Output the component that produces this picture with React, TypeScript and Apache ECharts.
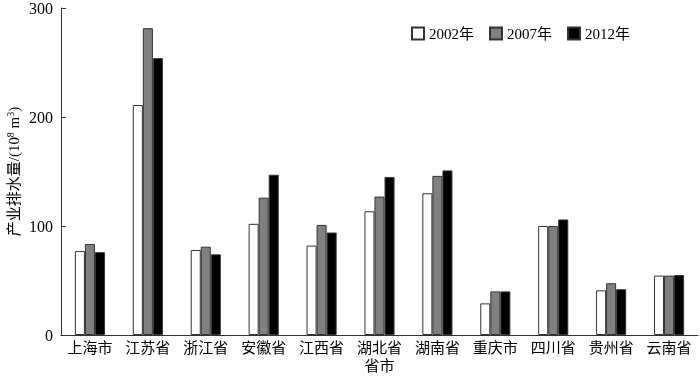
import React, { useEffect, useRef } from "react";
import * as echarts from "echarts";

const categories = ["上海市", "江苏省", "浙江省", "安徽省", "江西省", "湖北省", "湖南省", "重庆市", "四川省", "贵州省", "云南省"];
const years = ["2002年", "2007年", "2012年"];
const v2002 = [77, 211, 78, 102, 82, 113.5, 130, 29, 100, 41, 54.5];
const v2007 = [83.5, 281.5, 81, 126, 101, 127, 146, 40, 100, 47.5, 54.5];
const v2012 = [76, 254, 74, 147, 94, 145, 151, 40, 106, 42, 55];
const yTicks = { min: 0, max: 300, interval: 100 };

const FONT = "'Liberation Serif', 'Noto Sans CJK SC', serif";

export default function App() {
  const ref = useRef<HTMLDivElement>(null);
  useEffect(() => {
    const chart = echarts.init(ref.current!, null, { renderer: "svg" });
    const colors = ["#ffffff", "#808080", "#000000"];
    const data = [v2002, v2007, v2012];
    chart.setOption({
      animation: false,
      textStyle: { fontFamily: FONT, color: "#000" },
      grid: { left: 61, right: 2, top: 8, bottom: 42, outerBoundsMode: "none", containLabel: false },
      legend: {
        data: years,
        left: 406,
        top: 21,
        icon: "rect",
        itemWidth: 12,
        itemHeight: 12,
        itemGap: 15,
        textStyle: { fontFamily: FONT, fontSize: 15, color: "#000" },
      },
      xAxis: {
        type: "category",
        data: categories,
        name: "省市",
        nameLocation: "middle",
        nameGap: 23,
        nameMoveOverlap: false,
        nameTextStyle: { fontFamily: FONT, fontSize: 15, color: "#000" },
        axisLine: { lineStyle: { color: "#333", width: 1 } },
        axisTick: { inside: true, length: 5, lineStyle: { color: "#333" } },
        axisLabel: { fontFamily: FONT, fontSize: 15, color: "#000", margin: 5, interval: 0 },
      },
      yAxis: {
        type: "value",
        min: yTicks.min,
        max: yTicks.max,
        interval: yTicks.interval,
        name: "{a|产业排水量/(10}{s|8}{a| m}{s|3}{a|)}",
        nameLocation: "middle",
        nameGap: 38,
        nameMoveOverlap: false,
        nameTextStyle: {
          rich: {
            a: { fontFamily: FONT, fontSize: 15, color: "#000" },
            s: { fontFamily: FONT, fontSize: 10, color: "#000", verticalAlign: "top", padding: [0, 0, 8, 0] },
          },
        },
        splitLine: { show: false },
        axisLine: { show: true, lineStyle: { color: "#333", width: 1 } },
        axisTick: { show: true, inside: true, length: 5, lineStyle: { color: "#333" } },
        axisLabel: { fontFamily: FONT, fontSize: 16, color: "#000", margin: 8 },
      },
      series: years.map((y, i) => ({
        name: y,
        type: "bar",
        data: data[i],
        barGap: "0%",
        barCategoryGap: "48%",
        itemStyle: { color: colors[i], borderColor: "#333", borderWidth: 1 },
      })),
    });
    return () => chart.dispose();
  }, []);
  return <div ref={ref} style={{ position: "fixed", left: 0, top: 0, width: 700, height: 377 }} />;
}
